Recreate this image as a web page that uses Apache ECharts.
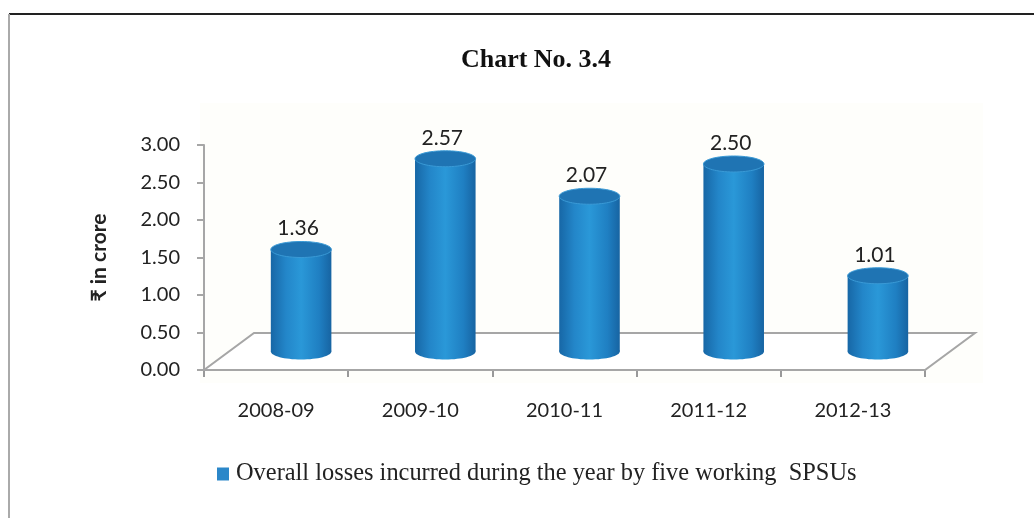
<!DOCTYPE html>
<html>
<head>
<meta charset="utf-8">
<script src="https://cdn.jsdelivr.net/npm/echarts@6/dist/echarts.min.js"></script>
<style>html,body{margin:0;padding:0;background:#fff}#chart{width:1034px;height:518px}</style>
</head>
<body>
<div id="chart"></div>
<script>
var categories = ['2008-09', '2009-10', '2010-11', '2011-12', '2012-13'];
var losses = [1.36, 2.57, 2.07, 2.50, 1.01];
var seriesName = 'Overall losses incurred during the year by five working  SPSUs';
var titleText = 'Chart No. 3.4';
var yAxisName = '\u20B9 in crore';
var yMin = 0, yMax = 3, yStep = 0.5;

var DEPTH_X = 50, DEPTH_Y = -37; // floor depth offset
var sansFont = 'Lato, "Noto Sans", "DejaVu Sans", sans-serif';
var serifFont = '"Liberation Serif", "DejaVu Serif", serif';

var chart = echarts.init(document.getElementById('chart'));

function floorItem(params, api) {
  var bw = api.size([1, 0])[0];
  var p0 = api.coord([0, 0]);
  var pN = api.coord([categories.length - 1, 0]);
  var x0 = p0[0] - bw / 2, x1 = pN[0] + bw / 2, y = p0[1];
  return {
    type: 'polygon',
    shape: { points: [[x0, y], [x1, y], [x1 + DEPTH_X, y + DEPTH_Y], [x0 + DEPTH_X, y + DEPTH_Y]] },
    style: { fill: '#ffffff', stroke: '#a6a6a6', lineWidth: 2 },
    silent: true
  };
}

function cylinderItem(params, api) {
  var i = api.value(0), v = api.value(1);
  var top = api.coord([i, v]);
  var base = api.coord([i, 0]);
  var bw = api.size([1, 0])[0];
  var w = bw * 0.42;
  var rx = w / 2, ry = 8;
  var cx = top[0] + DEPTH_X / 2;
  var ty = top[1] + DEPTH_Y / 2;
  var by = base[1] + DEPTH_Y / 2;
  var bodyFill = {
    type: 'linear', x: 0, y: 0, x2: 1, y2: 0,
    colorStops: [
      { offset: 0, color: '#1767a6' },
      { offset: 0.25, color: '#2386c9' },
      { offset: 0.5, color: '#2a98d8' },
      { offset: 0.8, color: '#1f7fc2' },
      { offset: 1, color: '#1764a2' }
    ]
  };
  return {
    type: 'group',
    children: [
      { type: 'ellipse', shape: { cx: cx, cy: by, rx: rx, ry: ry }, style: { fill: bodyFill } },
      { type: 'rect', shape: { x: cx - rx, y: ty, width: w, height: by - ty }, style: { fill: bodyFill } },
      { type: 'ellipse', shape: { cx: cx, cy: ty, rx: rx, ry: ry },
        style: { fill: '#1f74b3', stroke: '#3a9ad6', lineWidth: 1 } },
      { type: 'text', x: cx - 3, y: ty - ry - 13,
        style: { text: v.toFixed(2), font: '21px ' + sansFont, fill: '#222', align: 'center', verticalAlign: 'middle' } }
    ]
  };
}

chart.setOption({
  animation: false,
  backgroundColor: '#ffffff',
  title: {
    text: titleText, left: 531, top: 42, textAlign: 'center',
    textStyle: { fontFamily: serifFont, fontWeight: 'bold', fontSize: 26, color: '#111' }
  },
  graphic: [
    { type: 'rect', z: -10, silent: true, shape: { x: 200, y: 103, width: 783, height: 280 }, style: { fill: '#fefefb' } },
    { type: 'line', silent: true, shape: { x1: 9, y1: 14, x2: 1034, y2: 14 }, style: { stroke: '#222', lineWidth: 2 } },
    { type: 'line', silent: true, shape: { x1: 9, y1: 14, x2: 9, y2: 518 }, style: { stroke: '#aaaaaa', lineWidth: 2 } }
  ],
  legend: {
    left: 217, top: 462,
    icon: 'rect', itemWidth: 12, itemHeight: 13, itemGap: 10, padding: 0,
    textStyle: { fontFamily: serifFont, fontSize: 24.4, color: '#222', padding: [0, 0, 0, 2] },
    data: [seriesName]
  },
  grid: { left: 204, right: 109, top: 145, bottom: 148, containLabel: false },
  xAxis: {
    type: 'category', data: categories,
    axisLine: { show: false },
    axisTick: { show: true, alignWithLabel: false, length: 7, lineStyle: { color: '#999', width: 2 } },
    axisLabel: { margin: 31, fontFamily: sansFont, fontSize: 20, color: '#222' }
  },
  yAxis: {
    type: 'value', min: yMin, max: yMax, interval: yStep,
    name: yAxisName, nameLocation: 'middle', nameGap: 94, nameRotate: 90,
    nameTextStyle: { fontFamily: sansFont, fontSize: 21, fontWeight: 'bold', color: '#222' },
    axisLine: { show: true, lineStyle: { color: '#a6a6a6', width: 2 } },
    axisTick: { show: true, length: 7, lineStyle: { color: '#a6a6a6', width: 2 } },
    splitLine: { show: false },
    axisLabel: { margin: 24, fontFamily: sansFont, fontSize: 20, color: '#222',
      formatter: function (v) { return v.toFixed(2); } }
  },
  series: [
    { type: 'custom', name: 'floor', renderItem: floorItem, data: [[0, 0]], silent: true, z: 1, legendHoverLink: false },
    { type: 'custom', name: seriesName, renderItem: cylinderItem, z: 3,
      itemStyle: { color: '#2b87c9' },
      encode: { x: 0, y: 1 },
      data: categories.map(function (c, i) { return [i, losses[i]]; }) }
  ]
});
</script>
</body>
</html>
